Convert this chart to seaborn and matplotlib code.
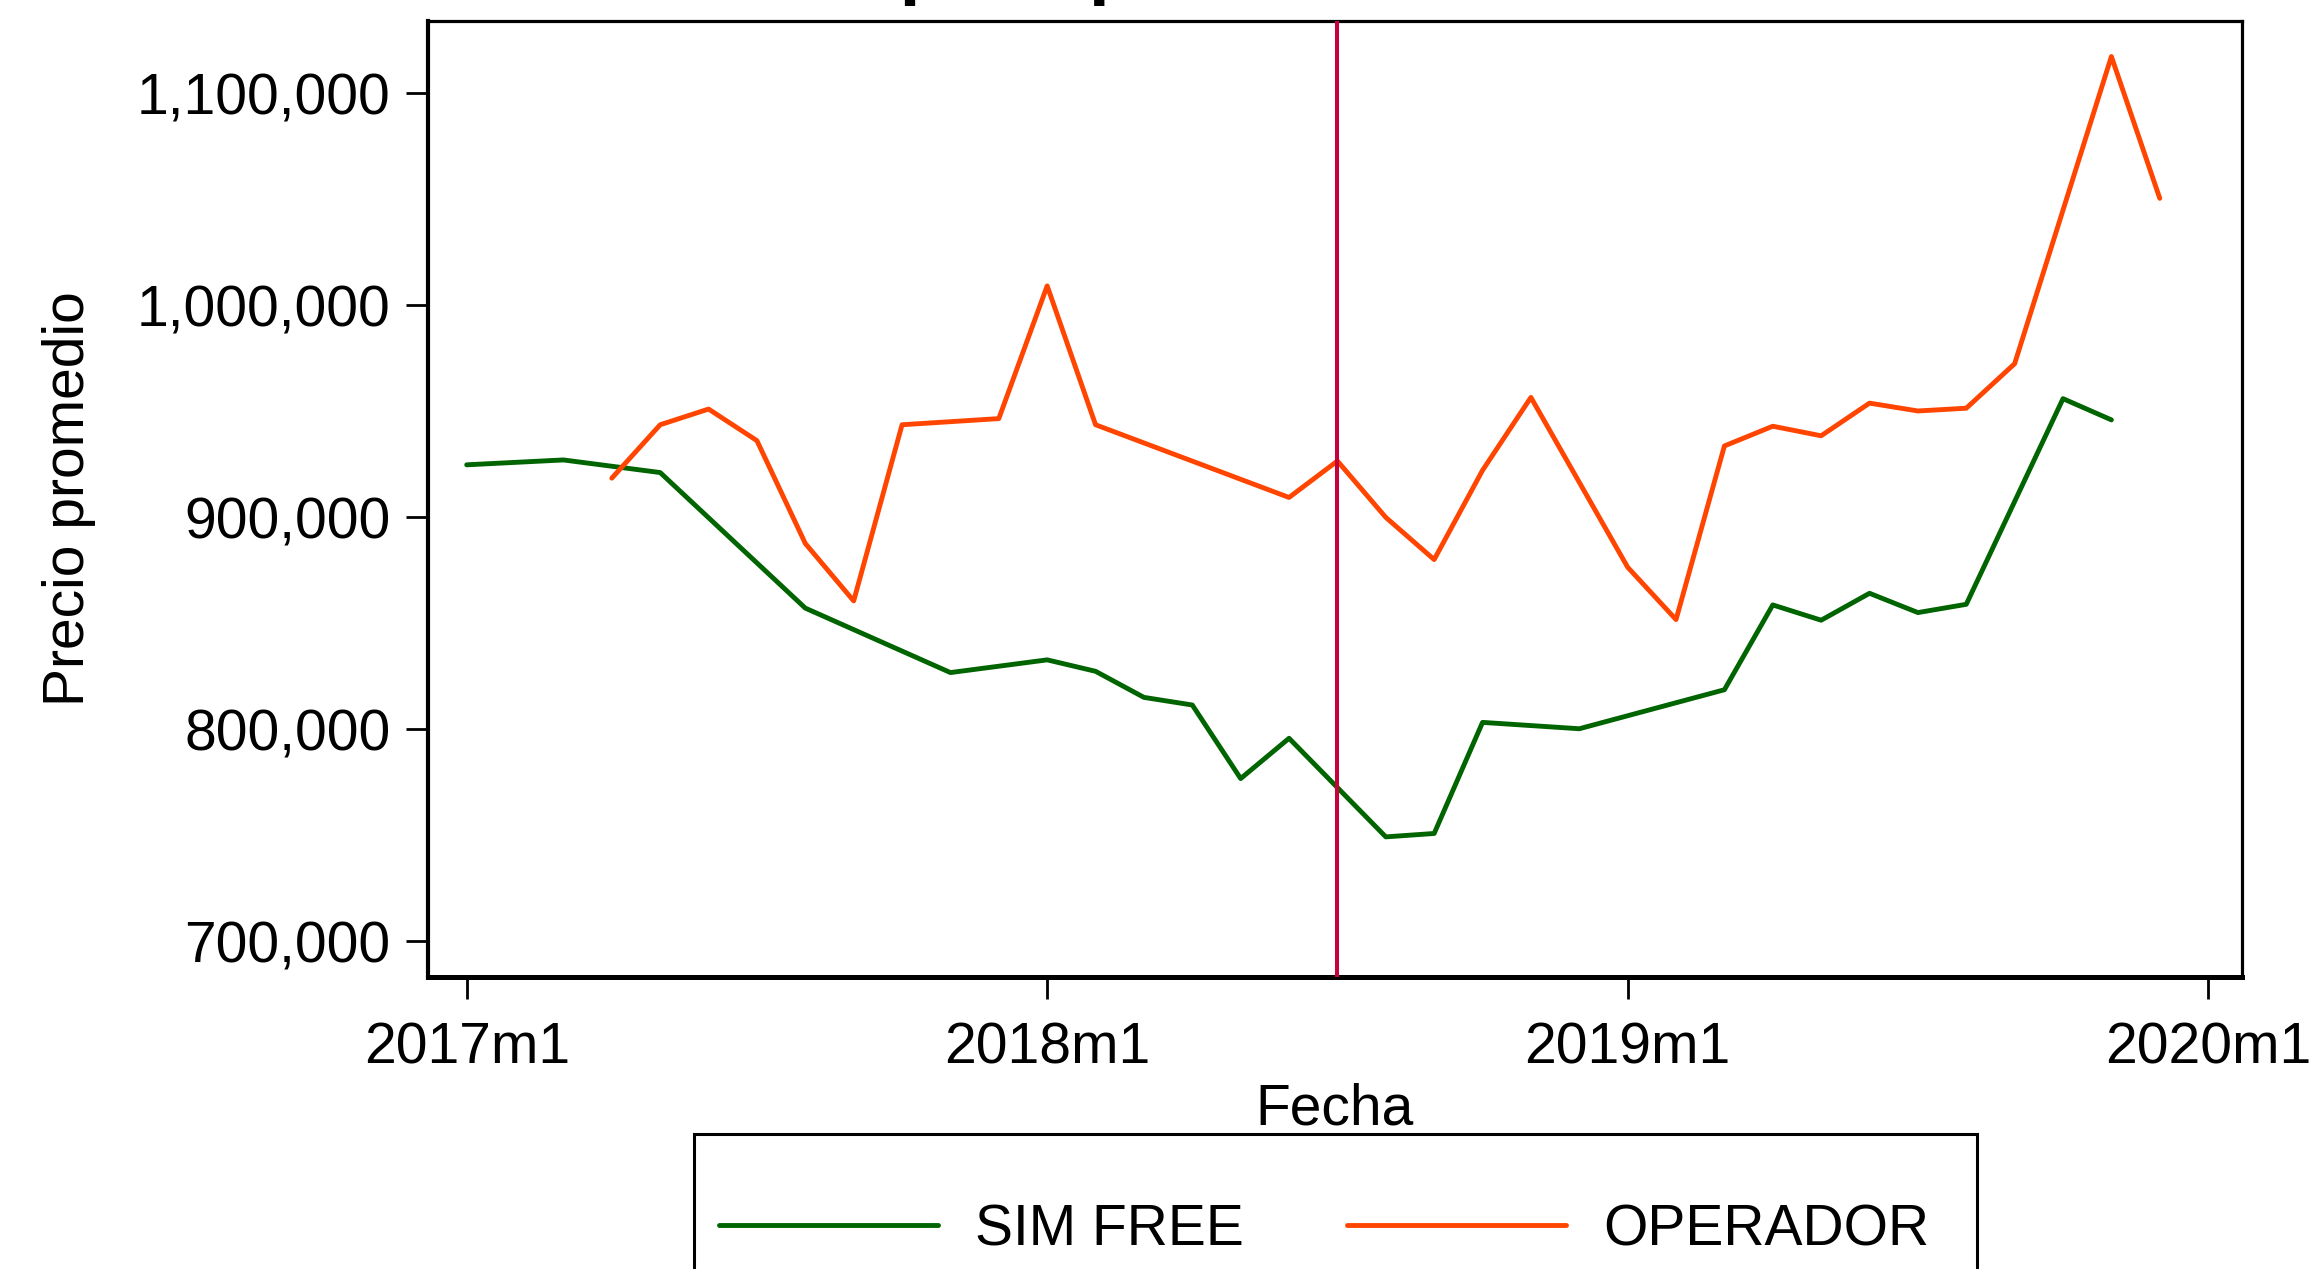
import matplotlib
matplotlib.use("Agg")
import matplotlib.pyplot as plt
from matplotlib.lines import Line2D
from matplotlib.patches import Rectangle
from matplotlib.ticker import FuncFormatter
import pandas as pd
import seaborn as sns

# ---------------------------------------------------------------------------
# Data
# ---------------------------------------------------------------------------
sim_free_fechas = ["2017m1", "2017m3", "2017m5", "2017m8", "2017m11", "2018m1",
                   "2018m2", "2018m3", "2018m4", "2018m5", "2018m6", "2018m8",
                   "2018m9", "2018m10", "2018m12", "2019m3", "2019m4", "2019m5",
                   "2019m6", "2019m7", "2019m8", "2019m10", "2019m11"]
sim_free_precio = [924800, 927100, 921150, 857200, 826800, 832800,
                   827400, 815100, 811500, 776800, 795800, 749300,
                   750900, 803300, 800300, 818700, 858700, 851500,
                   864200, 855100, 859000, 956000, 946000]

operador_fechas = ["2017m4", "2017m5", "2017m6", "2017m7", "2017m8", "2017m9",
                   "2017m10", "2017m12", "2018m1", "2018m2", "2018m6", "2018m7",
                   "2018m8", "2018m9", "2018m10", "2018m11", "2019m1", "2019m2",
                   "2019m3", "2019m4", "2019m5", "2019m6", "2019m7", "2019m8",
                   "2019m9", "2019m11", "2019m12"]
operador_precio = [918500, 943700, 951100, 936200, 887700, 860600,
                   943700, 946600, 1009200, 943700, 909400, 926600,
                   900000, 880100, 922200, 956600, 876500, 851800,
                   933700, 943000, 938500, 953900, 950200, 951500,
                   972500, 1117400, 1050500]

tipos = ["SIM FREE", "OPERADOR"]
colores = {"SIM FREE": "#006400", "OPERADOR": "#ff4500"}
fecha_corte = "2018m7"
x_ticklabels = ["2017m1", "2018m1", "2019m1", "2020m1"]
y_ticks = [700000, 800000, 900000, 1000000, 1100000]


def _mes(s):
    anio, m = s.split("m")
    return (int(anio) - 2017) * 12 + int(m) - 1


df = pd.concat([
    pd.DataFrame({"fecha": sim_free_fechas, "precio": sim_free_precio, "tipo": "SIM FREE"}),
    pd.DataFrame({"fecha": operador_fechas, "precio": operador_precio, "tipo": "OPERADOR"}),
], ignore_index=True)
df["mes"] = df["fecha"].map(_mes)

# ---------------------------------------------------------------------------
# Figure
# ---------------------------------------------------------------------------
sns.set_theme(style="white")
plt.rcParams["font.family"] = ["Liberation Sans", "DejaVu Sans"]
plt.rcParams["text.color"] = "black"

W, H = 2315, 1269
fig = plt.figure(figsize=(W / 100, H / 100), dpi=100)
ax = fig.add_axes([428 / W, 1 - 977 / H, (2242 - 428) / W, (977 - 21) / H])

sns.lineplot(data=df, x="mes", y="precio", hue="tipo", hue_order=tipos,
             palette=colores, linewidth=3.5, estimator=None, legend=False, ax=ax)
ax.axvline(_mes(fecha_corte), color="#c8003c", linewidth=2.9, zorder=3)

ax.set_xlim(-0.8, 36.7)
ax.set_ylim(683200, 1134150)
ax.set_xticks([_mes(t) for t in x_ticklabels])
ax.set_xticklabels(x_ticklabels)
ax.set_yticks(y_ticks)
ax.yaxis.set_major_formatter(FuncFormatter(lambda v, _: f"{v:,.0f}"))

ax.tick_params(axis="x", direction="out", length=16, width=2.0, pad=16,
               labelsize=41, colors="black", bottom=True)
ax.tick_params(axis="y", direction="out", length=16, width=2.0, pad=11,
               labelsize=41, colors="black", left=True)
for name, sp in ax.spines.items():
    sp.set_visible(True)
    sp.set_color("black")
    sp.set_linewidth({"bottom": 3.6, "left": 3.0}.get(name, 2.3))

ax.set_xlabel("Fecha", fontsize=41, labelpad=5, color="black")
ax.set_ylabel("Precio promedio", fontsize=41, labelpad=29, color="black")

# title, mostly cropped above the top edge as in the reference
fig.text(276 / W, 1 + 9.5 / H, "Precio Promedio por tipo de venta",
         fontsize=54.5, fontweight="bold", ha="left", va="baseline")

handles = [Line2D([], [], color=colores[t], linewidth=3.5) for t in tipos]
leg = ax.legend(handles, tipos, loc="center left",
                bbox_to_anchor=(719 / W, 1 - 1230 / H), bbox_transform=fig.transFigure,
                ncol=2, frameon=False, fontsize=41, borderpad=0, borderaxespad=0,
                handlelength=3.84, handletextpad=0.65, columnspacing=1.82)
for t in leg.get_texts():
    t.set_color("black")

fig.canvas.draw()
bb = leg.get_window_extent(fig.canvas.get_renderer())
cy = (bb.y0 + bb.y1) / 2
x0, x1 = bb.x0 - 25, bb.x1 + 48
top = cy + 96
fig.add_artist(Rectangle((x0 / W, -0.2), (x1 - x0) / W, top / H + 0.2,
                         transform=fig.transFigure, fill=False,
                         edgecolor="black", linewidth=2.2, clip_on=False))

fig.savefig("out.png", dpi=100)
